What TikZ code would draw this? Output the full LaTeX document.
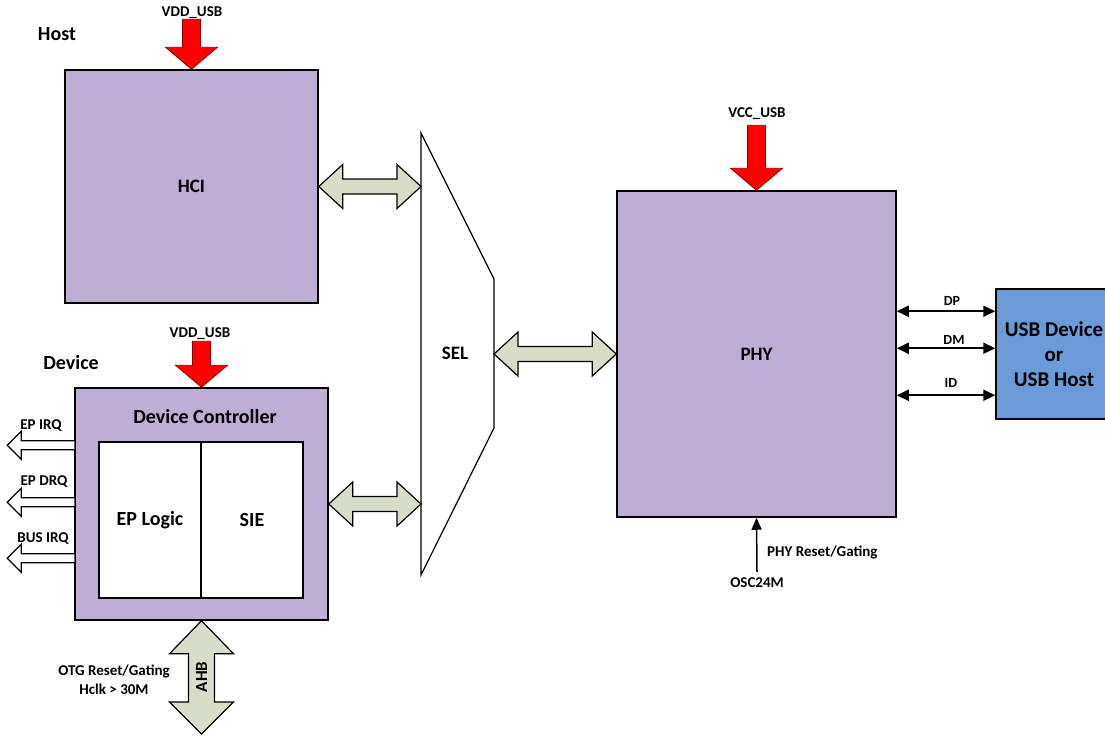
\documentclass[tikz,border=0pt]{standalone}
\usepackage{fontspec}
\setmainfont{Carlito}
\usepackage{tikz}
\usetikzlibrary{arrows.meta,positioning,calc}
\definecolor{blkpurple}{RGB}{191,174,212}
\definecolor{busgray}{RGB}{216,221,202}
\definecolor{usbblue}{RGB}{106,155,216}

\newcommand{\lblbig}{\fontsize{19}{25}\selectfont\bfseries}
\newcommand{\lblhead}{\fontsize{20}{25}\selectfont\bfseries}
\newcommand{\lblmid}{\fontsize{15}{18}\selectfont\bfseries}
\newcommand{\lblsig}{\fontsize{14}{17}\selectfont\bfseries}

% fat bus arrows: horizontal (left tip, right tip) and vertical (top tip, bottom tip)
\newcommand{\hbus}[2]{%
  \draw[bus] (#1) -- ++(24,-22) -- ++(0,14.5) -- ($(#2)+(-24,-7.5)$) -- ++(0,-14.5) -- (#2)
    -- ++(-24,22) -- ++(0,-14.5) -- ($(#1)+(24,7.5)$) -- ++(0,14.5) -- cycle;}
\newcommand{\vbus}[2]{%
  \draw[bus] (#1) -- ++(32,33) -- ++(-19,0) -- ($(#2)+(13,-32)$) -- ++(19,0) -- (#2)
    -- ++(-32,-32) -- ++(19,0) -- ($(#1)+(-13,33)$) -- ++(-19,0) -- cycle;}
\newcommand{\pwrarrow}[2]{%
  \draw[pwr] (#1) -- ++(-26,-22) -- ++(17,0) -- ++(0,{-(#2-22)}) -- ++(18,0)
    -- ++(0,{#2-22}) -- ++(17,0) -- cycle;}
\newcommand{\irqarrow}[1]{%
  \draw[irq] ($(#1)+(0,-4.5)$) -- ++(-53,0) -- ++(0,-9.5) -- ++(-14,14) -- ++(14,14)
    -- ++(0,-9.5) -- ++(53,0);}

\begin{document}
\begin{tikzpicture}[x=1pt, y=-1pt,
    blk/.style={rectangle, draw, line width=1.5pt, fill=blkpurple, inner sep=0pt, font=\lblbig},
    inner/.style={rectangle, draw, line width=1.5pt, fill=white, inner sep=0pt, font=\lblhead,
      minimum width=102pt, minimum height=156pt},
    bus/.style={draw, line width=1.2pt, fill=busgray, line join=miter},
    pwr/.style={draw=red!55!black, line width=0.8pt, fill=red},
    irq/.style={draw, line width=1.2pt, fill=white},
    sig/.style={line width=1.8pt, {Triangle[length=12pt,width=11pt]}-{Triangle[length=12pt,width=11pt]}},
    txt/.style={inner sep=0pt, font=\lblmid}
]
    \useasboundingbox (0,0) rectangle (1105,736);

    \node[txt, font=\lblhead] (hostlbl) at (57,34) {Host};
    \node[blk, minimum width=253pt, minimum height=233pt] (hci) at (191.5,186.5) {HCI};

    \node[txt, font=\lblhead] (devlbl) at (71,363) {Device};
    \node[blk, minimum width=253pt, minimum height=232pt] (dev) at (201.5,504) {};
    \node[txt, font=\lblhead] (devctl) at (205,417) {Device Controller};
    \node[inner] (eplogic) at (150,520) {EP Logic};
    \node[inner] (sie) at (252,520) {SIE};

    \draw[line width=1.2pt] (421,133) -- (494,279) -- (494,428) -- (421,575) -- cycle;
    \node[txt, font=\lblbig] (sel) at (455,353) {SEL};
    \coordinate (selhci) at (421,186.5);
    \coordinate (seldev) at (421,504);
    \coordinate (selphy) at (494,354);

    \node[blk, minimum width=279pt, minimum height=326pt] (phy) at (756.5,354) {PHY};
    \node[rectangle, draw, line width=1.5pt, fill=usbblue, inner sep=0pt, minimum width=116pt,
      minimum height=130pt, align=center, font=\fontsize{21}{25}\selectfont\bfseries] (usb) at (1054,354)
      {USB Device\\or\\USB Host};

    \hbus{hci.east}{selhci}
    \hbus{dev.east}{seldev}
    \hbus{selphy}{phy.west}
    \vbus{dev.south}{201.5,734}
    \node[txt, rotate=90, font=\fontsize{17}{20}\selectfont\bfseries] (ahb) at (201.5,677) {AHB};
    \node[txt, align=center, font=\fontsize{15}{19}\selectfont\bfseries] (otg) at (114,680)
      {OTG Reset/Gating\\Hclk > 30M};

    \pwrarrow{hci.north}{50}
    \node[txt] (vddhost) at (192,13) {VDD\_USB};
    \pwrarrow{dev.north}{46}
    \node[txt] (vdddev) at (200,334) {VDD\_USB};
    \pwrarrow{phy.north}{65}
    \node[txt] (vcc) at (757,114) {VCC\_USB};

    \coordinate (irqa) at ($(dev.north west)+(0,58)$);
    \coordinate (irqb) at ($(dev.north west)+(0,115)$);
    \coordinate (irqc) at ($(dev.north west)+(0,171)$);
    \irqarrow{irqa}
    \irqarrow{irqb}
    \irqarrow{irqc}
    \node[txt, font=\lblmid] (epirq) at (41,426) {EP IRQ};
    \node[txt, font=\lblmid] (epdrq) at (44,482) {EP DRQ};
    \node[txt, font=\lblmid] (busirq) at (43,539) {BUS IRQ};

    \draw[sig] ($(phy.north east)+(0,121)$) -- ($(usb.north west)+(0,23)$);
    \draw[sig] ($(phy.north east)+(0,158)$) -- ($(usb.north west)+(0,60)$);
    \draw[sig] ($(phy.north east)+(0,205)$) -- ($(usb.north west)+(0,107)$);
    \node[txt, font=\lblsig] (dp) at (952,301) {DP};
    \node[txt, font=\lblsig] (dm) at (954,340) {DM};
    \node[txt, font=\lblsig] (id) at (951,383) {ID};

    \node[txt] (osc) at (757,583) {OSC24M};
    \node[txt, anchor=west] (phyrst) at (767,552) {PHY Reset/Gating};
    \draw[line width=1.5pt, -{Triangle[length=12pt,width=10pt]}] (osc.north) ++(0,-6) -- (phy.south);
\end{tikzpicture}
\end{document}
